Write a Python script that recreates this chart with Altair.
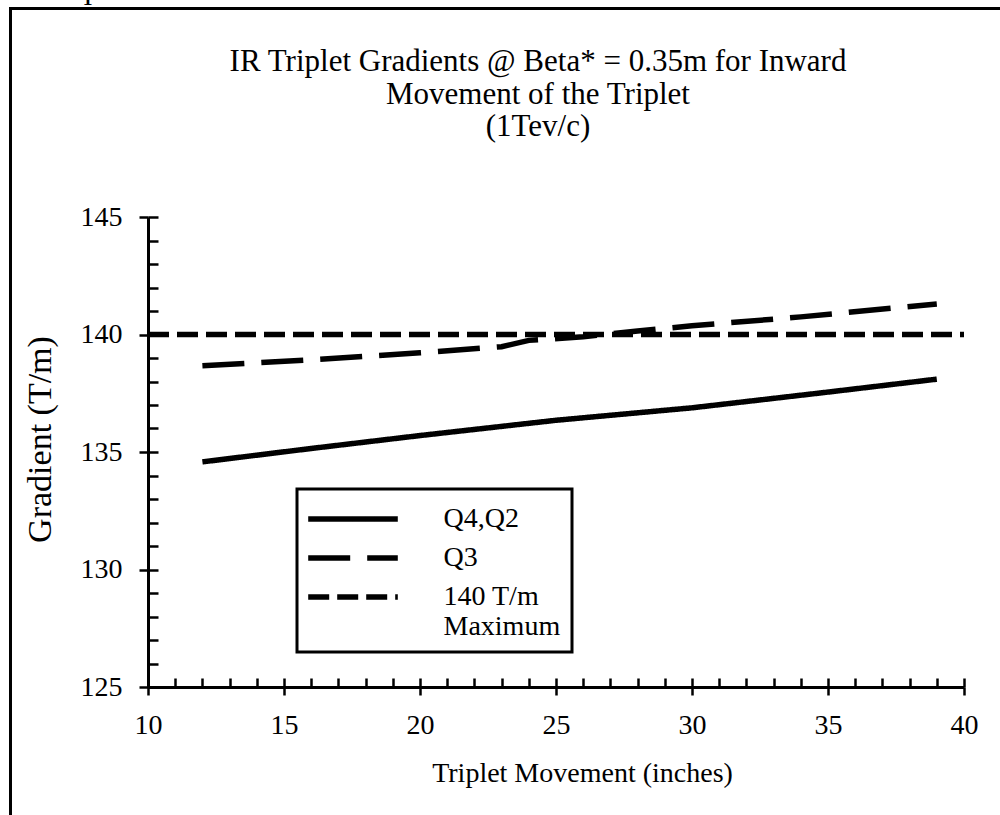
import altair as alt
import pandas as pd

# ---- data ----
series_names = ["Q4,Q2", "Q3", "140 T/m Maximum"]
x_q4 = [12, 16, 20, 25, 30, 35, 39]
y_q4 = [134.58, 135.15, 135.70, 136.35, 136.88, 137.55, 138.10]
x_q3 = [12, 16, 20, 23, 24, 26, 28, 30, 34, 39]
y_q3 = [138.67, 138.92, 139.22, 139.48, 139.75, 139.90, 140.15, 140.37, 140.75, 141.30]
x_max = [10, 40]
y_max = [140, 140]

x_ticks_major = [10, 15, 20, 25, 30, 35, 40]
y_ticks_major = [125, 130, 135, 140, 145]
x_ticks_all = list(range(10, 41))
y_ticks_all = list(range(125, 146))

title_lines = ["IR Triplet Gradients @ Beta* = 0.35m for Inward",
               "Movement of the Triplet",
               "(1Tev/c)"]

rows = []
for s, xs, ys in zip(series_names, [x_q4, x_q3, x_max], [y_q4, y_q3, y_max]):
    for i, (a, b) in enumerate(zip(xs, ys)):
        rows.append({"series": s, "x": a, "y": b, "order": i})
df = pd.DataFrame(rows)
dummy = pd.DataFrame({"k": [0]})

FONT = "Liberation Serif"
W, H = 816, 470
xscale = alt.Scale(domain=[10, 40], nice=False, zero=False)
yscale = alt.Scale(domain=[125, 145], nice=False, zero=False)

NB = "\u00a0" * 4
legend = alt.Legend(
    title=None, orient="none", legendX=149, legendY=272,
    strokeColor="black", fillColor="white", padding=11,
    symbolType="M-2.8,0H2.8", symbolSize=1024, symbolStrokeColor="black",
    symbolOffset=26,
    labelFont=FONT, labelFontSize=28, labelColor="black", labelOffset=71.5,
    labelLimit=400, rowPadding=6,
    labelExpr="datum.label == '140 T/m Maximum' ? ['140 T/m', 'Maximum" + NB + "'] : datum.label",
)

lines = alt.Chart(df).mark_line(color="black", clip=False).encode(
    x=alt.X("x:Q", scale=xscale, axis=alt.Axis(
        orient="bottom", values=x_ticks_major, format="d", tickSize=8, tickWidth=2.5,
        domainWidth=3, labelPadding=16, labelFlush=False,
        title="Triplet Movement (inches)",
        titleX=434, titleY=86, titleAlign="center", titleBaseline="middle")),
    y=alt.Y("y:Q", scale=yscale, axis=alt.Axis(
        orient="left", values=y_ticks_major, format="d", tickSize=9, tickWidth=2.5,
        domainWidth=3, labelPadding=17, labelFlush=False,
        title="Gradient (T/m)", titleFontSize=34,
        titleX=-108, titleY=222, titleAngle=270, titleAlign="center",
        titleBaseline="middle")),
    strokeDash=alt.StrokeDash("series:N", scale=alt.Scale(
        domain=series_names, range=[[1, 0], [42, 17], [21, 8]]), legend=legend),
    strokeWidth=alt.StrokeWidth("series:N", scale=alt.Scale(
        domain=series_names, range=[5.5, 5.5, 2.2]), legend=legend),
    order=alt.Order("order:Q"),
)

inner_ticks = alt.Chart(df).mark_point(opacity=0).encode(
    x=alt.X("x:Q", scale=xscale, axis=alt.Axis(
        orient="top", offset=-H, values=x_ticks_all, tickSize=9, tickWidth=2.5,
        labels=False, domain=False, title=None)),
    y=alt.Y("y:Q", scale=yscale, axis=alt.Axis(
        orient="right", offset=-W, values=y_ticks_all, tickSize=10, tickWidth=2.5,
        labels=False, domain=False, title=None)),
)

frame = alt.Chart(dummy).mark_rect(filled=False, stroke="black", strokeWidth=3,
                                   clip=False).encode(
    x=alt.value(-137.5), x2=alt.value(870), y=alt.value(-208.5), y2=alt.value(620))

frag = alt.Chart(dummy).mark_text(text="I", font=FONT, fontSize=28, color="black",
                                  baseline="alphabetic", align="center").encode(
    x=alt.value(-60), y=alt.value(-212))

chart = alt.layer(frame, lines, inner_ticks, frag).resolve_axis(
    x="independent", y="independent"
).properties(
    width=W, height=H,
    padding={"left": 148, "top": 217, "right": 36, "bottom": 128},
    autosize=alt.AutoSizeParams(type="none"),
    background="white",
    title=alt.TitleParams(text=title_lines, font=FONT, fontSize=31,
                          fontWeight="normal", color="black", anchor="middle",
                          frame="group", offset=-160, lineHeight=32.5, dx=-18),
).configure_view(stroke=None).configure_axis(
    labelFont=FONT, titleFont=FONT, labelFontSize=28, titleFontSize=28,
    labelColor="black", titleColor="black", domainColor="black", tickColor="black",
    titleFontWeight="normal", grid=False,
).configure_legend(strokeWidth=3)

chart.save("out.html", embed_options={"renderer": "svg", "actions": False})
